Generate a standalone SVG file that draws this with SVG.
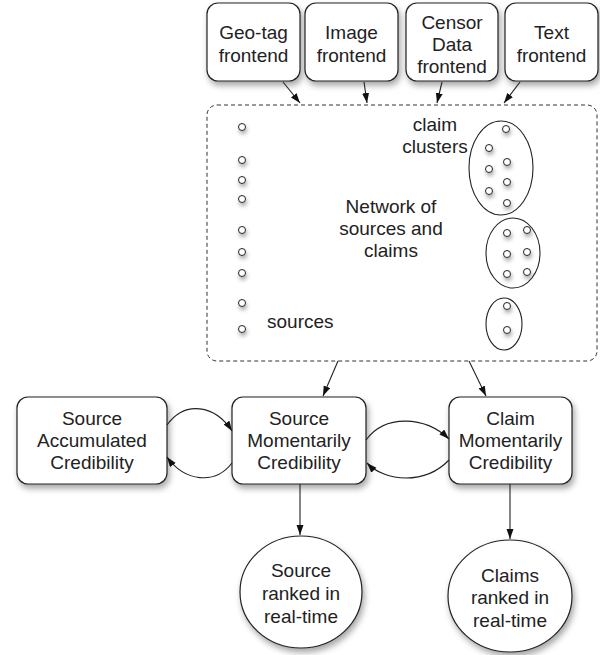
<svg xmlns="http://www.w3.org/2000/svg" width="600" height="655" viewBox="0 0 600 655">
<defs>
<filter id="sh" x="-20%" y="-20%" width="150%" height="150%">
<feDropShadow dx="2" dy="4" stdDeviation="3" flood-color="#000" flood-opacity="0.35"/>
</filter>
<filter id="shs" x="-100%" y="-100%" width="300%" height="300%">
<feDropShadow dx="1" dy="3" stdDeviation="2" flood-color="#000" flood-opacity="0.35"/>
</filter>
<marker id="ah" markerUnits="userSpaceOnUse" markerWidth="11" markerHeight="8" refX="10" refY="3.5" orient="auto">
<path d="M0,0 L10,3.5 L0,7 z" fill="#111"/>
</marker>
</defs>
<style>
.box{fill:#fff;stroke:#222;stroke-width:1.2;filter:url(#sh)}
.dot{fill:#fff;stroke:#222;stroke-width:1;filter:url(#shs)}
.ell{fill:none;stroke:#222;stroke-width:1.1}
.t{font-family:"Liberation Sans",Arial,sans-serif;font-size:19px;fill:#222;text-anchor:middle}
.c{fill:none;stroke:#222;stroke-width:1.1;marker-end:url(#ah)}
</style>
<rect width="600" height="655" fill="#fff"/>

<g id="geotag">
<rect class="box" x="207" y="3" width="93" height="78" rx="11"/>
<text class="t" x="253.5" y="39">Geo-tag</text>
<text class="t" x="253.5" y="62">frontend</text>
</g>
<g id="image">
<rect class="box" x="305" y="3" width="93" height="78" rx="11"/>
<text class="t" x="351.5" y="39">Image</text>
<text class="t" x="351.5" y="62">frontend</text>
</g>
<g id="censor">
<rect class="box" x="406" y="3" width="92" height="78" rx="11"/>
<text class="t" x="452" y="29">Censor</text>
<text class="t" x="452" y="51">Data</text>
<text class="t" x="452" y="73">frontend</text>
</g>
<g id="text">
<rect class="box" x="505" y="3" width="93" height="78" rx="11"/>
<text class="t" x="551.5" y="39">Text</text>
<text class="t" x="551.5" y="62">frontend</text>
</g>

<g id="network">
<rect x="207" y="105" width="390" height="256" rx="10" fill="#fff" stroke="#333" stroke-width="1" stroke-dasharray="4,3"/>
<g id="sources-col">
<circle class="dot" cx="242" cy="127" r="3.5"/>
<circle class="dot" cx="242" cy="160" r="3.5"/>
<circle class="dot" cx="242" cy="180" r="3.5"/>
<circle class="dot" cx="242" cy="199" r="3.5"/>
<circle class="dot" cx="242" cy="230" r="3.5"/>
<circle class="dot" cx="242" cy="252" r="3.5"/>
<circle class="dot" cx="242" cy="273" r="3.5"/>
<circle class="dot" cx="242" cy="303" r="3.5"/>
<circle class="dot" cx="242" cy="329" r="3.5"/>
</g>
<g id="cluster1">
<ellipse class="ell" cx="501" cy="168" rx="32" ry="47"/>
<circle class="dot" cx="506" cy="129" r="3.5"/>
<circle class="dot" cx="489" cy="148" r="3.5"/>
<circle class="dot" cx="507" cy="162" r="3.5"/>
<circle class="dot" cx="489" cy="169" r="3.5"/>
<circle class="dot" cx="507" cy="182" r="3.5"/>
<circle class="dot" cx="489" cy="191" r="3.5"/>
<circle class="dot" cx="507" cy="203" r="3.5"/>
</g>
<g id="cluster2">
<ellipse class="ell" cx="513" cy="253" rx="27" ry="35"/>
<circle class="dot" cx="507" cy="233" r="3.5"/>
<circle class="dot" cx="527" cy="230" r="3.5"/>
<circle class="dot" cx="507" cy="254" r="3.5"/>
<circle class="dot" cx="527" cy="252" r="3.5"/>
<circle class="dot" cx="507" cy="274" r="3.5"/>
<circle class="dot" cx="527" cy="272" r="3.5"/>
</g>
<g id="cluster3">
<ellipse class="ell" cx="504" cy="324" rx="18" ry="26"/>
<circle class="dot" cx="507" cy="306" r="3.5"/>
<circle class="dot" cx="507" cy="330" r="3.5"/>
</g>
<text class="t" x="435" y="131">claim</text>
<text class="t" x="435" y="153">clusters</text>
<text class="t" x="391" y="213">Network of</text>
<text class="t" x="391" y="235">sources and</text>
<text class="t" x="391" y="257">claims</text>
<text class="t" x="267" y="328" style="text-anchor:start">sources</text>
</g>

<g id="sac">
<rect class="box" x="17" y="397" width="150" height="87" rx="11"/>
<text class="t" x="92" y="425">Source</text>
<text class="t" x="92" y="447">Accumulated</text>
<text class="t" x="92" y="469">Credibility</text>
</g>
<g id="smc">
<rect class="box" x="232" y="397" width="134" height="87" rx="11"/>
<text class="t" x="299" y="425">Source</text>
<text class="t" x="299" y="447">Momentarily</text>
<text class="t" x="299" y="469">Credibility</text>
</g>
<g id="cmc">
<rect class="box" x="449" y="397" width="123" height="87" rx="11"/>
<text class="t" x="510.5" y="425">Claim</text>
<text class="t" x="510.5" y="447">Momentarily</text>
<text class="t" x="510.5" y="469">Credibility</text>
</g>
<g id="srank">
<ellipse class="box" cx="301" cy="592" rx="61" ry="56"/>
<text class="t" x="301" y="577">Source</text>
<text class="t" x="301" y="600">ranked in</text>
<text class="t" x="301" y="623">real-time</text>
</g>
<g id="crank">
<ellipse class="box" cx="510" cy="596" rx="62" ry="56"/>
<text class="t" x="510" y="582">Claims</text>
<text class="t" x="510" y="604">ranked in</text>
<text class="t" x="510" y="627">real-time</text>
</g>

<g id="connectors">
<line class="c" x1="283" y1="82" x2="300" y2="103"/>
<line class="c" x1="364" y1="82" x2="367" y2="103"/>
<line class="c" x1="442" y1="82" x2="437" y2="103"/>
<line class="c" x1="520" y1="82" x2="504" y2="103"/>
<line class="c" x1="338" y1="361" x2="323" y2="396"/>
<line class="c" x1="469" y1="361" x2="486" y2="396"/>
<path class="c" d="M167,425 C185,400 215,405 232,431"/>
<path class="c" d="M232,463 C215,485 185,482 167,457"/>
<path class="c" d="M366,440 C385,414 425,416 449,439"/>
<path class="c" d="M449,460 C425,485 385,482 367,463"/>
<line class="c" x1="300" y1="484" x2="300" y2="535"/>
<line class="c" x1="510" y1="484" x2="510" y2="539"/>
</g>
</svg>
